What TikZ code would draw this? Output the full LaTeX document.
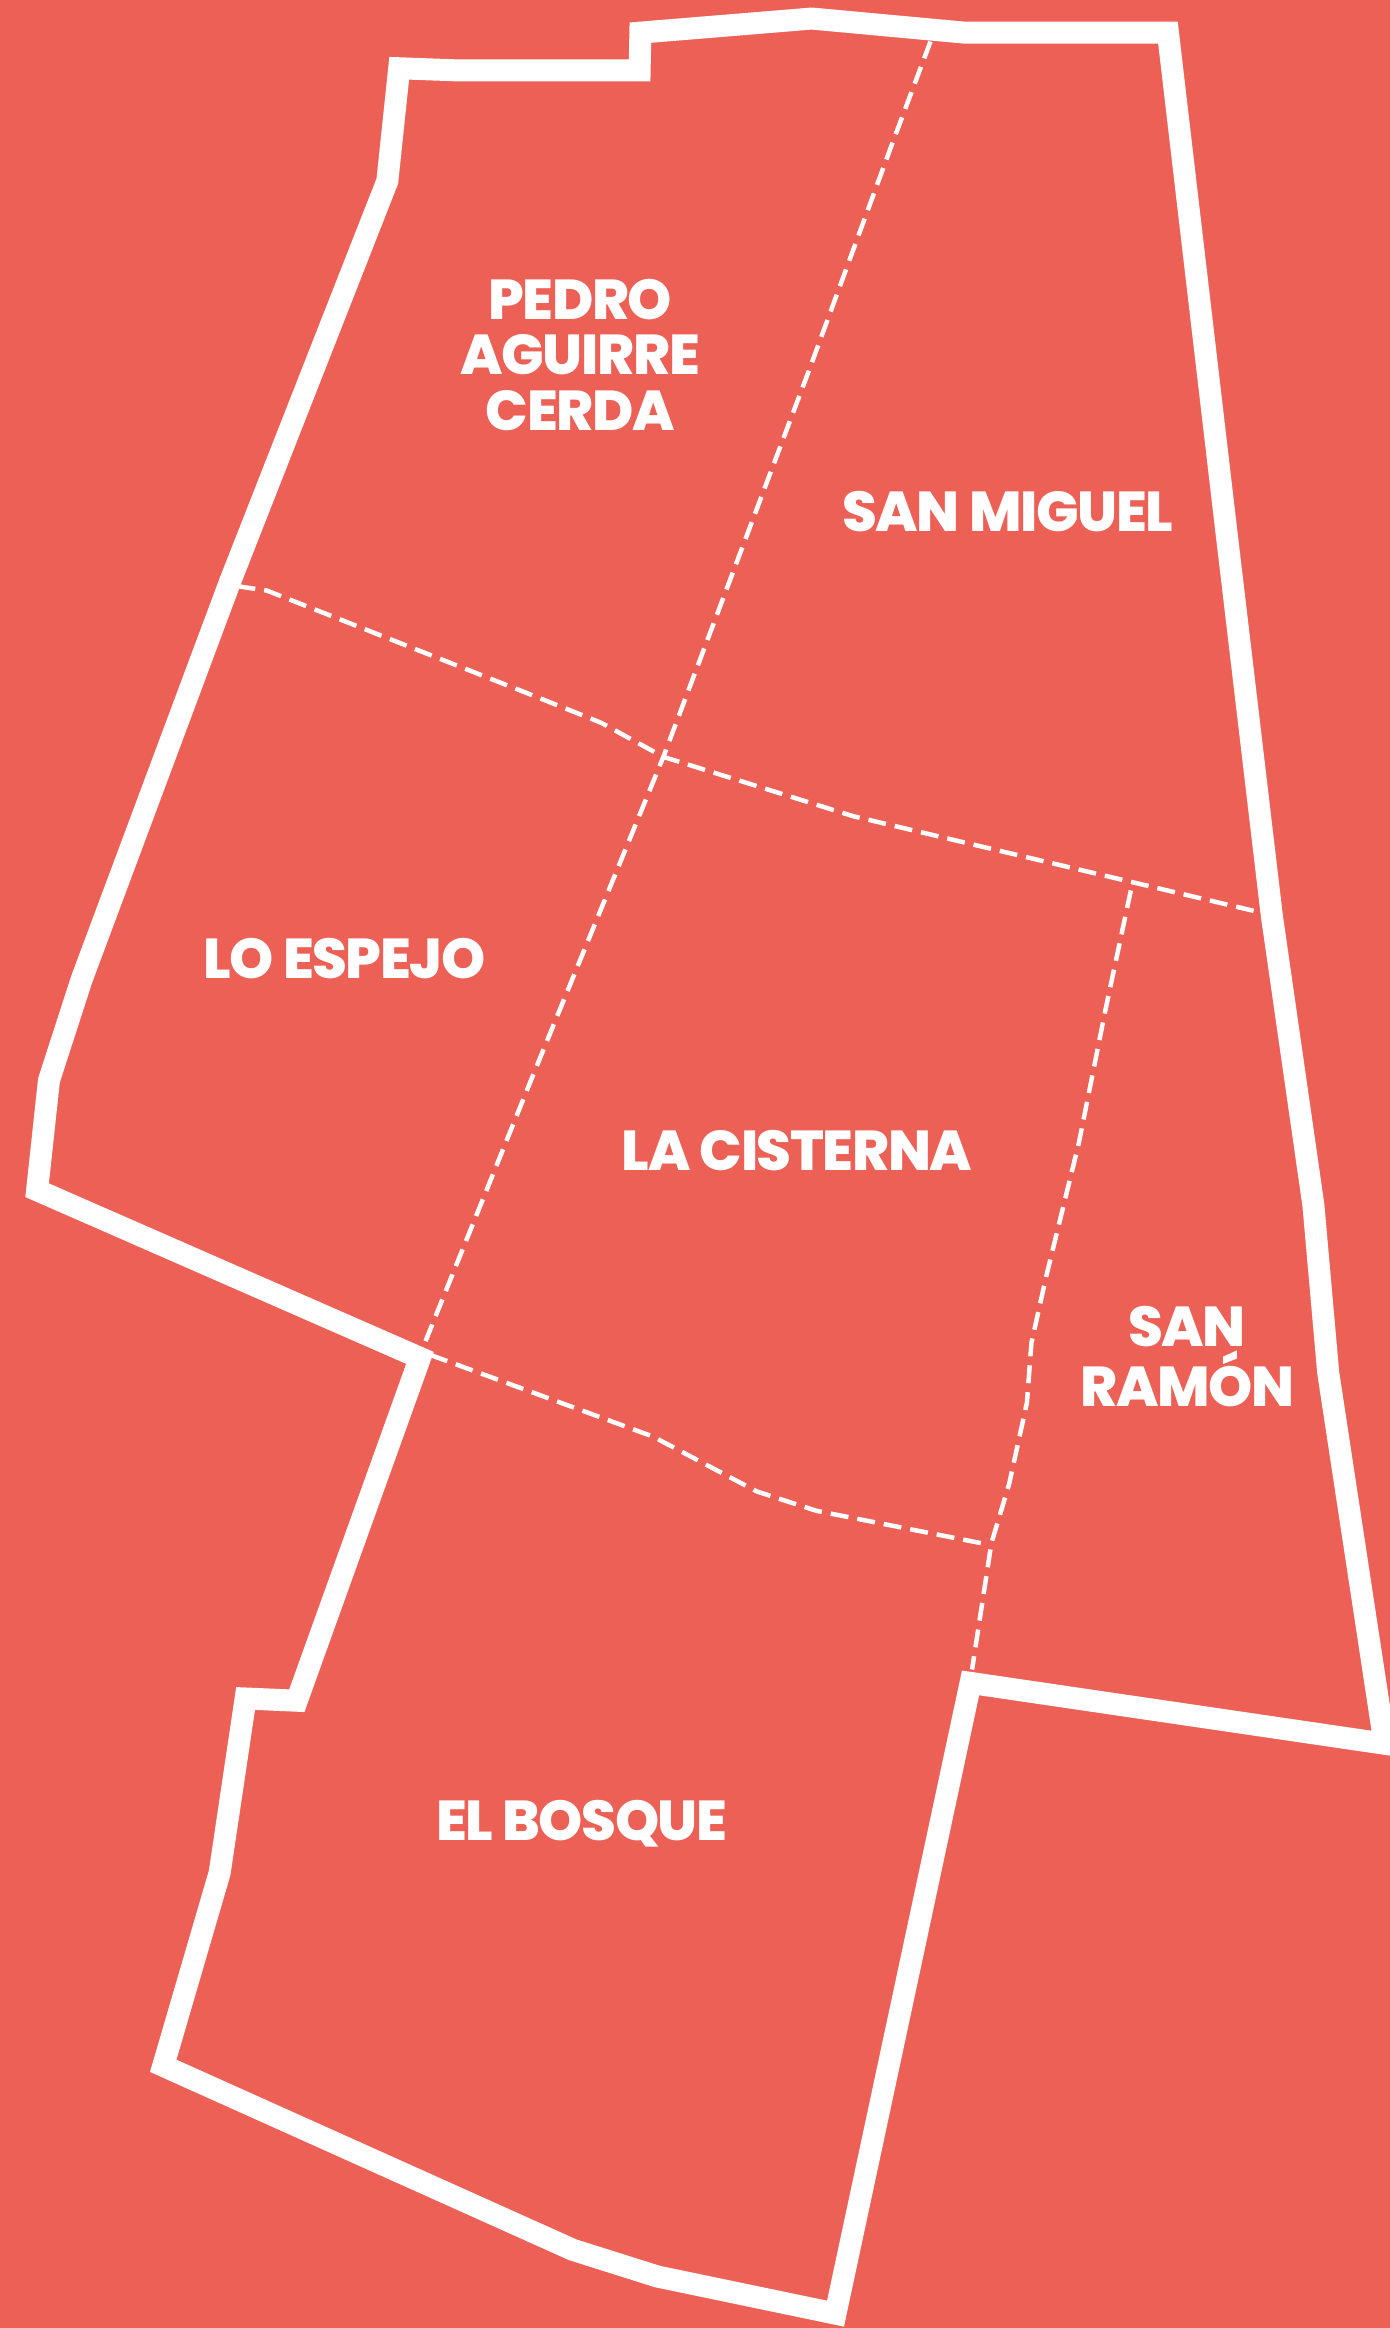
\documentclass[tikz,border=0pt]{standalone}
\usepackage{fontspec}
\setmainfont{Poppins}[BoldFont={Poppins ExtraBold},BoldFeatures={LetterSpace=-2.5}]
\definecolor{bgred}{HTML}{ED6056}
\tikzset{
  outline/.style={draw=white,line width=0.22cm,miter limit=10,line join=miter},
  border/.style={draw=white,line width=0.045cm,dash pattern=on 0.18cm off 0.09cm},
  place/.style={text=white,font=\bfseries\fontsize{16pt}{15.8pt}\selectfont,align=center,inner sep=0pt}
}
\begin{document}
\begin{tikzpicture}[x=0.01484cm,y=-0.01484cm]
\useasboundingbox (0,0) rectangle (936,1568.7);
\fill[bgred] (-6,-6) rectangle (946,1576);
% dashed commune borders
\draw[border] (627,28) -- (600,100) -- (545,250) -- (447,510) -- (361,720) -- (285,908);
\draw[border] (160,395) -- (180,398) -- (355,467) -- (405,487) -- (447,510) -- (575,550) -- (850,615);
\draw[border] (290,913) -- (440,968) -- (510,1005) -- (550,1018) -- (662,1040);
\draw[border] (762,600) -- (745,680) -- (727,770) -- (705,860) -- (695,905) -- (692,945) -- (680,1000) -- (668,1040) -- (655,1125);
% outer outline
\draw[outline] (269,46) -- (310,47.5) -- (431,47.5) -- (431.5,22) -- (547,12.5) -- (650,22) -- (787,22)
  -- (826,355) -- (857,617) -- (885,812) -- (895,925) -- (933,1175) -- (654,1134)
  -- (563,1559) -- (443,1534) -- (386,1516) -- (110,1392) -- (148,1262) -- (165.5,1144.5) -- (200,1146)
  -- (283,915) -- (25,802) -- (33,728) -- (55,660) -- (155,392) -- (261,122) -- cycle;
% labels
\node[place] (pac) at (391,239) {PEDRO\\AGUIRRE\\CERDA};
\node[place] (sm) at (679,345) {SAN MIGUEL};
\node[place] (le) at (232,646) {LO ESPEJO};
\node[place] (lc) at (537,775) {LA CISTERNA};
\node[place] (sr) at (800,914) {SAN\\RAMÓN};
\node[place] (eb) at (392,1229) {EL BOSQUE};
\end{tikzpicture}
\end{document}
